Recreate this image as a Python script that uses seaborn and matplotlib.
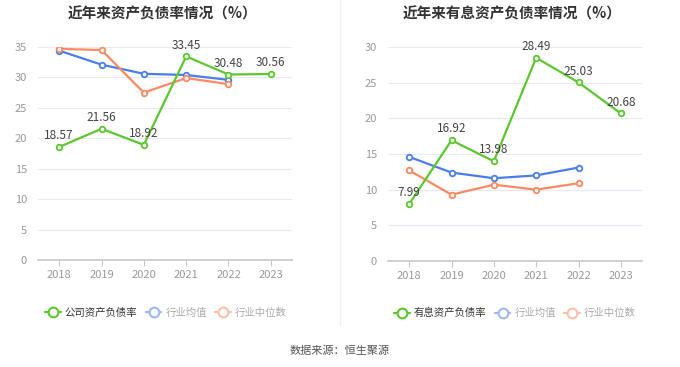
import numpy as np
import pandas as pd
import seaborn as sns
import matplotlib.pyplot as plt
from matplotlib.lines import Line2D

# Données
years = ['2018', '2019', '2020', '2021', '2022', '2023']
debt_ratio = [18.57, 21.56, 18.92, 33.45, 30.48, 30.56]
debt_mean = [34.4, 32.1, 30.6, 30.4, 29.6, np.nan]
debt_median = [34.7, 34.5, 27.5, 29.9, 28.9, np.nan]

interest_ratio = [7.99, 16.92, 13.98, 28.49, 25.03, 20.68]
interest_mean = [14.6, 12.4, 11.6, 12.0, 13.1, np.nan]
interest_median = [12.7, 9.3, 10.7, 10.0, 10.9, np.nan]

left_labels = ['公司资产负债率', '行业均值', '行业中位数']
right_labels = ['有息资产负债率', '行业均值', '行业中位数']

GREEN = '#5cc72e'
BLUE = '#4a7ee8'
ORANGE = '#fb8a62'
GRID = '#e6eaf2'
TICK = '#999999'

sns.set_theme(style="white")
plt.rcParams['font.family'] = ['Noto Sans CJK SC', 'DejaVu Sans']

fig = plt.figure(figsize=(6.8, 3.67), dpi=100)
ax1 = fig.add_axes([38 / 680, 1 - 260 / 367, 254 / 680, 213 / 367])
ax2 = fig.add_axes([388 / 680, 1 - 261 / 367, 254 / 680, 214 / 367])


def draw(ax, main, mean, median, ymax, step):
    x = np.arange(len(years))
    for vals, col, z in [(mean, BLUE, 2), (median, ORANGE, 2), (main, GREEN, 3)]:
        df = pd.DataFrame({'x': x, 'y': vals}).dropna()
        sns.lineplot(data=df, x='x', y='y', ax=ax, color=col, lw=1.6,
                     marker='o', markersize=4, markerfacecolor='white',
                     markeredgecolor=col, markeredgewidth=1.3, zorder=z)
    for xi, v in zip(x, main):
        ax.annotate(f'{v:.2f}', (xi, v), xytext=(0, 3.5), textcoords='offset points',
                    ha='center', va='bottom', fontsize=8.5, color='#444444', zorder=5)
    ax.set_xlim(-0.5, len(years) - 0.5)
    ax.set_ylim(0, ymax)
    ax.set_yticks(np.arange(0, ymax + 1, step))
    ax.set_xticks(x)
    ax.set_xticklabels(years)
    ax.set_xlabel('')
    ax.set_ylabel('')
    ax.grid(axis='y', color=GRID, lw=0.8)
    ax.set_axisbelow(True)
    for s in ['top', 'right', 'left']:
        ax.spines[s].set_visible(False)
    ax.spines['bottom'].set_color('#c8c8c8')
    ax.spines['bottom'].set_linewidth(1.2)
    ax.tick_params(axis='x', colors=TICK, labelsize=8, length=4, width=0.8,
                   direction='out', pad=3, bottom=True)
    ax.tick_params(axis='x', color='#c8c8c8')
    ax.tick_params(axis='y', colors=TICK, labelsize=8, length=0, pad=8)


draw(ax1, debt_ratio, debt_mean, debt_median, 35, 5)
draw(ax2, interest_ratio, interest_mean, interest_median, 30, 5)

fig.text(162 / 680, 1 - 13 / 367, '近年来资产负债率情况（%）', ha='center', va='center',
         fontsize=10.5, fontweight='bold', color='#333333')
fig.text(512 / 680, 1 - 13 / 367, '近年来有息资产负债率情况（%）', ha='center', va='center',
         fontsize=10.5, fontweight='bold', color='#333333')

# séparateur vertical
fig.add_artist(Line2D([340 / 680, 340 / 680], [1 - 325 / 367, 1.0],
                      color='#f0f0f0', lw=1))


def legend(labels, xc):
    cols = [GREEN, '#9db8f2', '#fcc0aa']
    handles = [Line2D([], [], color=c, lw=1.6, marker='o', markersize=7,
                      markerfacecolor='white', markeredgecolor=c, markeredgewidth=1.5)
               for c in cols]
    leg = fig.legend(handles, labels, loc='center', bbox_to_anchor=(xc / 680, 1 - 313 / 367),
                     ncol=3, frameon=False, fontsize=7.5, handlelength=1.5,
                     handletextpad=0.4, columnspacing=0.8)
    for t, c in zip(leg.get_texts(), ['#333333', '#aaaaaa', '#aaaaaa']):
        t.set_color(c)


legend(left_labels, 166)
legend(right_labels, 515)

fig.text(0.5, 1 - 351 / 367, '数据来源：恒生聚源', ha='center', va='center',
         fontsize=8, color='#555555')

plt.savefig('out.png', dpi=100)
